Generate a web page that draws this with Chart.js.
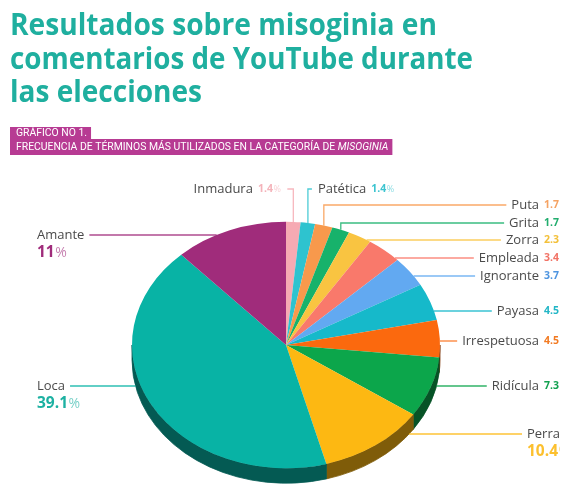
<!DOCTYPE html>
<html>
<head>
<meta charset="utf-8">
<script src="https://cdn.jsdelivr.net/npm/chart.js@4.4.1/dist/chart.umd.min.js"></script>
<style>
  html, body { margin: 0; padding: 0; background: #ffffff; }
  #wrap { position: relative; width: 588px; height: 504px; overflow: hidden; }
  canvas { display: block; }
</style>
</head>
<body>
<div id="wrap"><canvas id="c" width="588" height="504"></canvas></div>
<script>
// ---- data ----
const categories = ['Inmadura','Patética','Puta','Grita','Zorra','Empleada','Ignorante','Payasa','Irrespetuosa','Ridícula','Perra','Loca','Amante'];
const values = [1.4, 1.4, 1.7, 1.7, 2.3, 3.4, 3.7, 4.5, 4.5, 7.3, 10.4, 39.1, 11];
const valueLabels = ['1.4', '1.4', '1.7', '1.7', '2.3', '3.4', '3.7', '4.5', '4.5', '7.3', '10.4', '39.1', '11'];
const titleLines = ['Resultados sobre misoginia en', 'comentarios de YouTube durante', 'las elecciones'];
const subtitleLine1 = 'GRÁFICO NO 1.';
const subtitleLine2a = 'FRECUENCIA DE TÉRMINOS MÁS UTILIZADOS EN LA CATEGORÍA DE ';
const subtitleLine2b = 'MISOGINIA';

// ---- styles ----
const sliceColors = ['#f6aab3','#2ec3cf','#f8994c','#17b26b','#f9c441','#f9796b','#62a9f1','#16b9ca','#fb690e','#0ca64b','#fdb812','#08b3a5','#a02c7b'];
const valueColors = ['#f4b3ba','#3cc4d0','#f5a363','#22ad6e','#f3c03a','#f27366','#4f95e0','#22b6c6','#f27a22','#12a150','#fcc02e','#1db1a2','#a02c7b'];
const TILT = 0.8;
const DEPTH = 15;
// label layout: kind and vertical position of each label
const labelLayout = [
  { kind: 'topLeft', y: 189 },
  { kind: 'topRight', y: 189 },
  { kind: 'vertRight', y: 205 },
  { kind: 'vertRight', y: 223 },
  { kind: 'right', y: 240 },
  { kind: 'right', y: 258 },
  { kind: 'right', y: 276 },
  { kind: 'right', y: 311 },
  { kind: 'right', y: 341 },
  { kind: 'right', y: 386 },
  { kind: 'rightBelow', y: 434 },
  { kind: 'left', y: 386 },
  { kind: 'left', y: 235 }
];
const NAME_FONT = '13px "Open Sans"';
const SMALL_VAL_FONT = 'bold 10.5px "Open Sans"';
const SMALL_PCT_FONT = '9px "Open Sans"';
const BIG_VAL_FONT = 'bold 15.5px "Open Sans"';
const BIG_PCT_FONT = '14px "Open Sans"';
const TEXT_RIGHT = 539;
const VALUE_LEFT = 544;
const BELOW_NAME_X = 527;
const LEFT_NAME_X = 37;
const CLIP_RIGHT = 560;

function shade(hex, f) {
  const n = parseInt(hex.slice(1), 16);
  const r = Math.round(((n >> 16) & 255) * f), g = Math.round(((n >> 8) & 255) * f), b = Math.round((n & 255) * f);
  return 'rgb(' + r + ',' + g + ',' + b + ')';
}
function withAlpha(hex, a) {
  const n = parseInt(hex.slice(1), 16);
  return 'rgba(' + ((n >> 16) & 255) + ',' + ((n >> 8) & 255) + ',' + (n & 255) + ',' + a + ')';
}

const headerPlugin = {
  id: 'header',
  afterDraw(chart) {
    const ctx = chart.ctx;
    ctx.save();
    // title
    ctx.fillStyle = '#1faf9f';
    ctx.textBaseline = 'alphabetic';
    ctx.textAlign = 'left';
    ctx.font = 'bold 30px "Open Sans"';
    const targets = [427, 463, 192];
    const baselines = [35, 69, 102];
    titleLines.forEach((t, i) => {
      const w = ctx.measureText(t).width;
      const s = targets[i] / w;
      ctx.save();
      ctx.translate(10, baselines[i]);
      ctx.scale(s, 1);
      ctx.fillText(t, 0, 0);
      ctx.restore();
    });
    // subtitle
    ctx.font = '10px Roboto';
    const w2 = ctx.measureText(subtitleLine2a).width;
    ctx.font = 'italic 10px Roboto';
    const w2b = ctx.measureText(subtitleLine2b).width;
    const fs = 10 * 373 / (w2 + w2b);
    ctx.font = fs + 'px Roboto';
    const l1w = ctx.measureText(subtitleLine1).width;
    const l2aw = ctx.measureText(subtitleLine2a).width;
    ctx.font = 'italic ' + fs + 'px Roboto';
    const l2bw = ctx.measureText(subtitleLine2b).width;
    ctx.fillStyle = '#b73b93';
    ctx.fillRect(10, 127, 16 + l1w + 4 - 10, 12);
    ctx.fillRect(10, 139, 16 + l2aw + l2bw + 4 - 10, 16);
    ctx.fillStyle = '#ffffff';
    ctx.textBaseline = 'middle';
    ctx.font = fs + 'px Roboto';
    ctx.fillText(subtitleLine1, 16, 133.5);
    ctx.fillText(subtitleLine2a, 16, 147.5);
    ctx.font = 'italic ' + fs + 'px Roboto';
    ctx.fillText(subtitleLine2b, 16 + l2aw, 147.5);
    ctx.restore();
  }
};

const pie3dPlugin = {
  id: 'pie3d',
  beforeDatasetsDraw(chart) {
    const meta = chart.getDatasetMeta(0);
    const ctx = chart.ctx;
    const a0 = meta.data[0];
    const cx = a0.x, cy = a0.y, r = a0.outerRadius, ry = r * TILT;
    meta.data.forEach((a, i) => {
      const lo = Math.max(a.startAngle, 0), hi = Math.min(a.endAngle, Math.PI);
      if (hi <= lo) return;
      ctx.beginPath();
      ctx.ellipse(cx, cy + DEPTH, r, ry, 0, lo, hi);
      ctx.ellipse(cx, cy, r, ry, 0, hi, lo, true);
      ctx.closePath();
      ctx.fillStyle = shade(sliceColors[i], 0.5);
      ctx.fill();
      ctx.strokeStyle = shade(sliceColors[i], 0.5);
      ctx.lineWidth = 0.8;
      ctx.stroke();
    });
    ctx.save();
    ctx.translate(cx, cy);
    ctx.scale(1, TILT);
    ctx.translate(-cx, -cy);
  },
  afterDatasetsDraw(chart) {
    chart.ctx.restore();
  }
};

function drawValue(ctx, x, y, i, big, align) {
  const num = valueLabels[i];
  ctx.font = big ? BIG_VAL_FONT : SMALL_VAL_FONT;
  const nw = ctx.measureText(num).width;
  ctx.font = big ? BIG_PCT_FONT : SMALL_PCT_FONT;
  const pw = ctx.measureText('%').width;
  let sx = x;
  if (align === 'right') sx = x - nw - pw;
  ctx.textAlign = 'left';
  ctx.font = big ? BIG_VAL_FONT : SMALL_VAL_FONT;
  ctx.fillStyle = valueColors[i];
  ctx.fillText(num, sx, y);
  ctx.font = big ? BIG_PCT_FONT : SMALL_PCT_FONT;
  ctx.fillStyle = withAlpha(valueColors[i], 0.6);
  ctx.fillText('%', sx + nw + 0.5, y + (big ? 0.5 : 0));
  return nw + pw;
}

const labelsPlugin = {
  id: 'leaderLabels',
  afterDraw(chart) {
    const meta = chart.getDatasetMeta(0);
    const ctx = chart.ctx;
    const a0 = meta.data[0];
    const cx = a0.x, cy = a0.y, r = a0.outerRadius, ry = r * TILT;
    function edgeX(y, side) {
      let dx;
      if (y <= cy) { const d = (y - cy) / ry; dx = r * Math.sqrt(Math.max(0, 1 - d * d)); }
      else if (y <= cy + DEPTH) dx = r;
      else { const d = (y - cy - DEPTH) / ry; dx = r * Math.sqrt(Math.max(0, 1 - d * d)); }
      return cx + side * dx;
    }
    ctx.save();
    ctx.beginPath();
    ctx.rect(0, 0, CLIP_RIGHT, 504);
    ctx.clip();
    ctx.textBaseline = 'middle';
    ctx.lineWidth = 1.3;
    meta.data.forEach((a, i) => {
      const L = labelLayout[i];
      const m = (a.startAngle + a.endAngle) / 2;
      const ex = cx + r * Math.cos(m), ey = cy + ry * Math.sin(m);
      const y = L.y;
      ctx.font = NAME_FONT;
      const nameW = ctx.measureText(categories[i]).width;
      ctx.strokeStyle = withAlpha(sliceColors[i], 0.85);
      ctx.beginPath();
      if (L.kind === 'topLeft') {
        ctx.moveTo(ex, ey); ctx.lineTo(ex, y); ctx.lineTo(ex - 6, y);
        ctx.stroke();
        const vw = drawValue(ctx, ex - 13, y, i, false, 'right');
        ctx.font = NAME_FONT; ctx.fillStyle = '#4a4a4a'; ctx.textAlign = 'right';
        ctx.fillText(categories[i], ex - 13 - vw - 5, y);
      } else if (L.kind === 'topRight') {
        ctx.moveTo(ex, ey); ctx.lineTo(ex, y); ctx.lineTo(ex + 4, y);
        ctx.stroke();
        ctx.font = NAME_FONT; ctx.fillStyle = '#4a4a4a'; ctx.textAlign = 'left';
        ctx.fillText(categories[i], ex + 10, y);
        drawValue(ctx, ex + 10 + nameW + 5, y, i, false, 'left');
      } else if (L.kind === 'vertRight' || L.kind === 'right') {
        const start = TEXT_RIGHT - nameW;
        if (L.kind === 'vertRight') { ctx.moveTo(ex, ey); ctx.lineTo(ex, y); }
        else { ctx.moveTo(edgeX(y, 1), y); }
        ctx.lineTo(start - 5, y);
        ctx.stroke();
        ctx.font = NAME_FONT; ctx.fillStyle = '#4a4a4a'; ctx.textAlign = 'right';
        ctx.fillText(categories[i], TEXT_RIGHT, y);
        drawValue(ctx, VALUE_LEFT, y, i, false, 'left');
      } else if (L.kind === 'rightBelow') {
        ctx.moveTo(edgeX(y, 1), y); ctx.lineTo(BELOW_NAME_X - 5, y);
        ctx.stroke();
        ctx.font = NAME_FONT; ctx.fillStyle = '#4a4a4a'; ctx.textAlign = 'left';
        ctx.fillText(categories[i], BELOW_NAME_X, y);
        drawValue(ctx, BELOW_NAME_X, y + 18, i, true, 'left');
      } else if (L.kind === 'left') {
        ctx.moveTo(LEFT_NAME_X + nameW + 5, y); ctx.lineTo(edgeX(y, -1), y);
        ctx.stroke();
        ctx.font = NAME_FONT; ctx.fillStyle = '#4a4a4a'; ctx.textAlign = 'left';
        ctx.fillText(categories[i], LEFT_NAME_X, y);
        drawValue(ctx, LEFT_NAME_X, y + 18, i, true, 'left');
      }
    });
    ctx.restore();
  }
};

new Chart(document.getElementById('c'), {
  type: 'pie',
  data: {
    labels: categories,
    datasets: [{
      data: values,
      backgroundColor: sliceColors,
      borderWidth: 0,
      clip: false
    }]
  },
  options: {
    responsive: false,
    animation: false,
    events: [],
    layout: { padding: { left: 132, right: 148, top: 191, bottom: 5 } },
    plugins: {
      legend: { display: false },
      tooltip: { enabled: false },
      title: { display: false }
    }
  },
  plugins: [pie3dPlugin, labelsPlugin, headerPlugin]
});
</script>
</body>
</html>
